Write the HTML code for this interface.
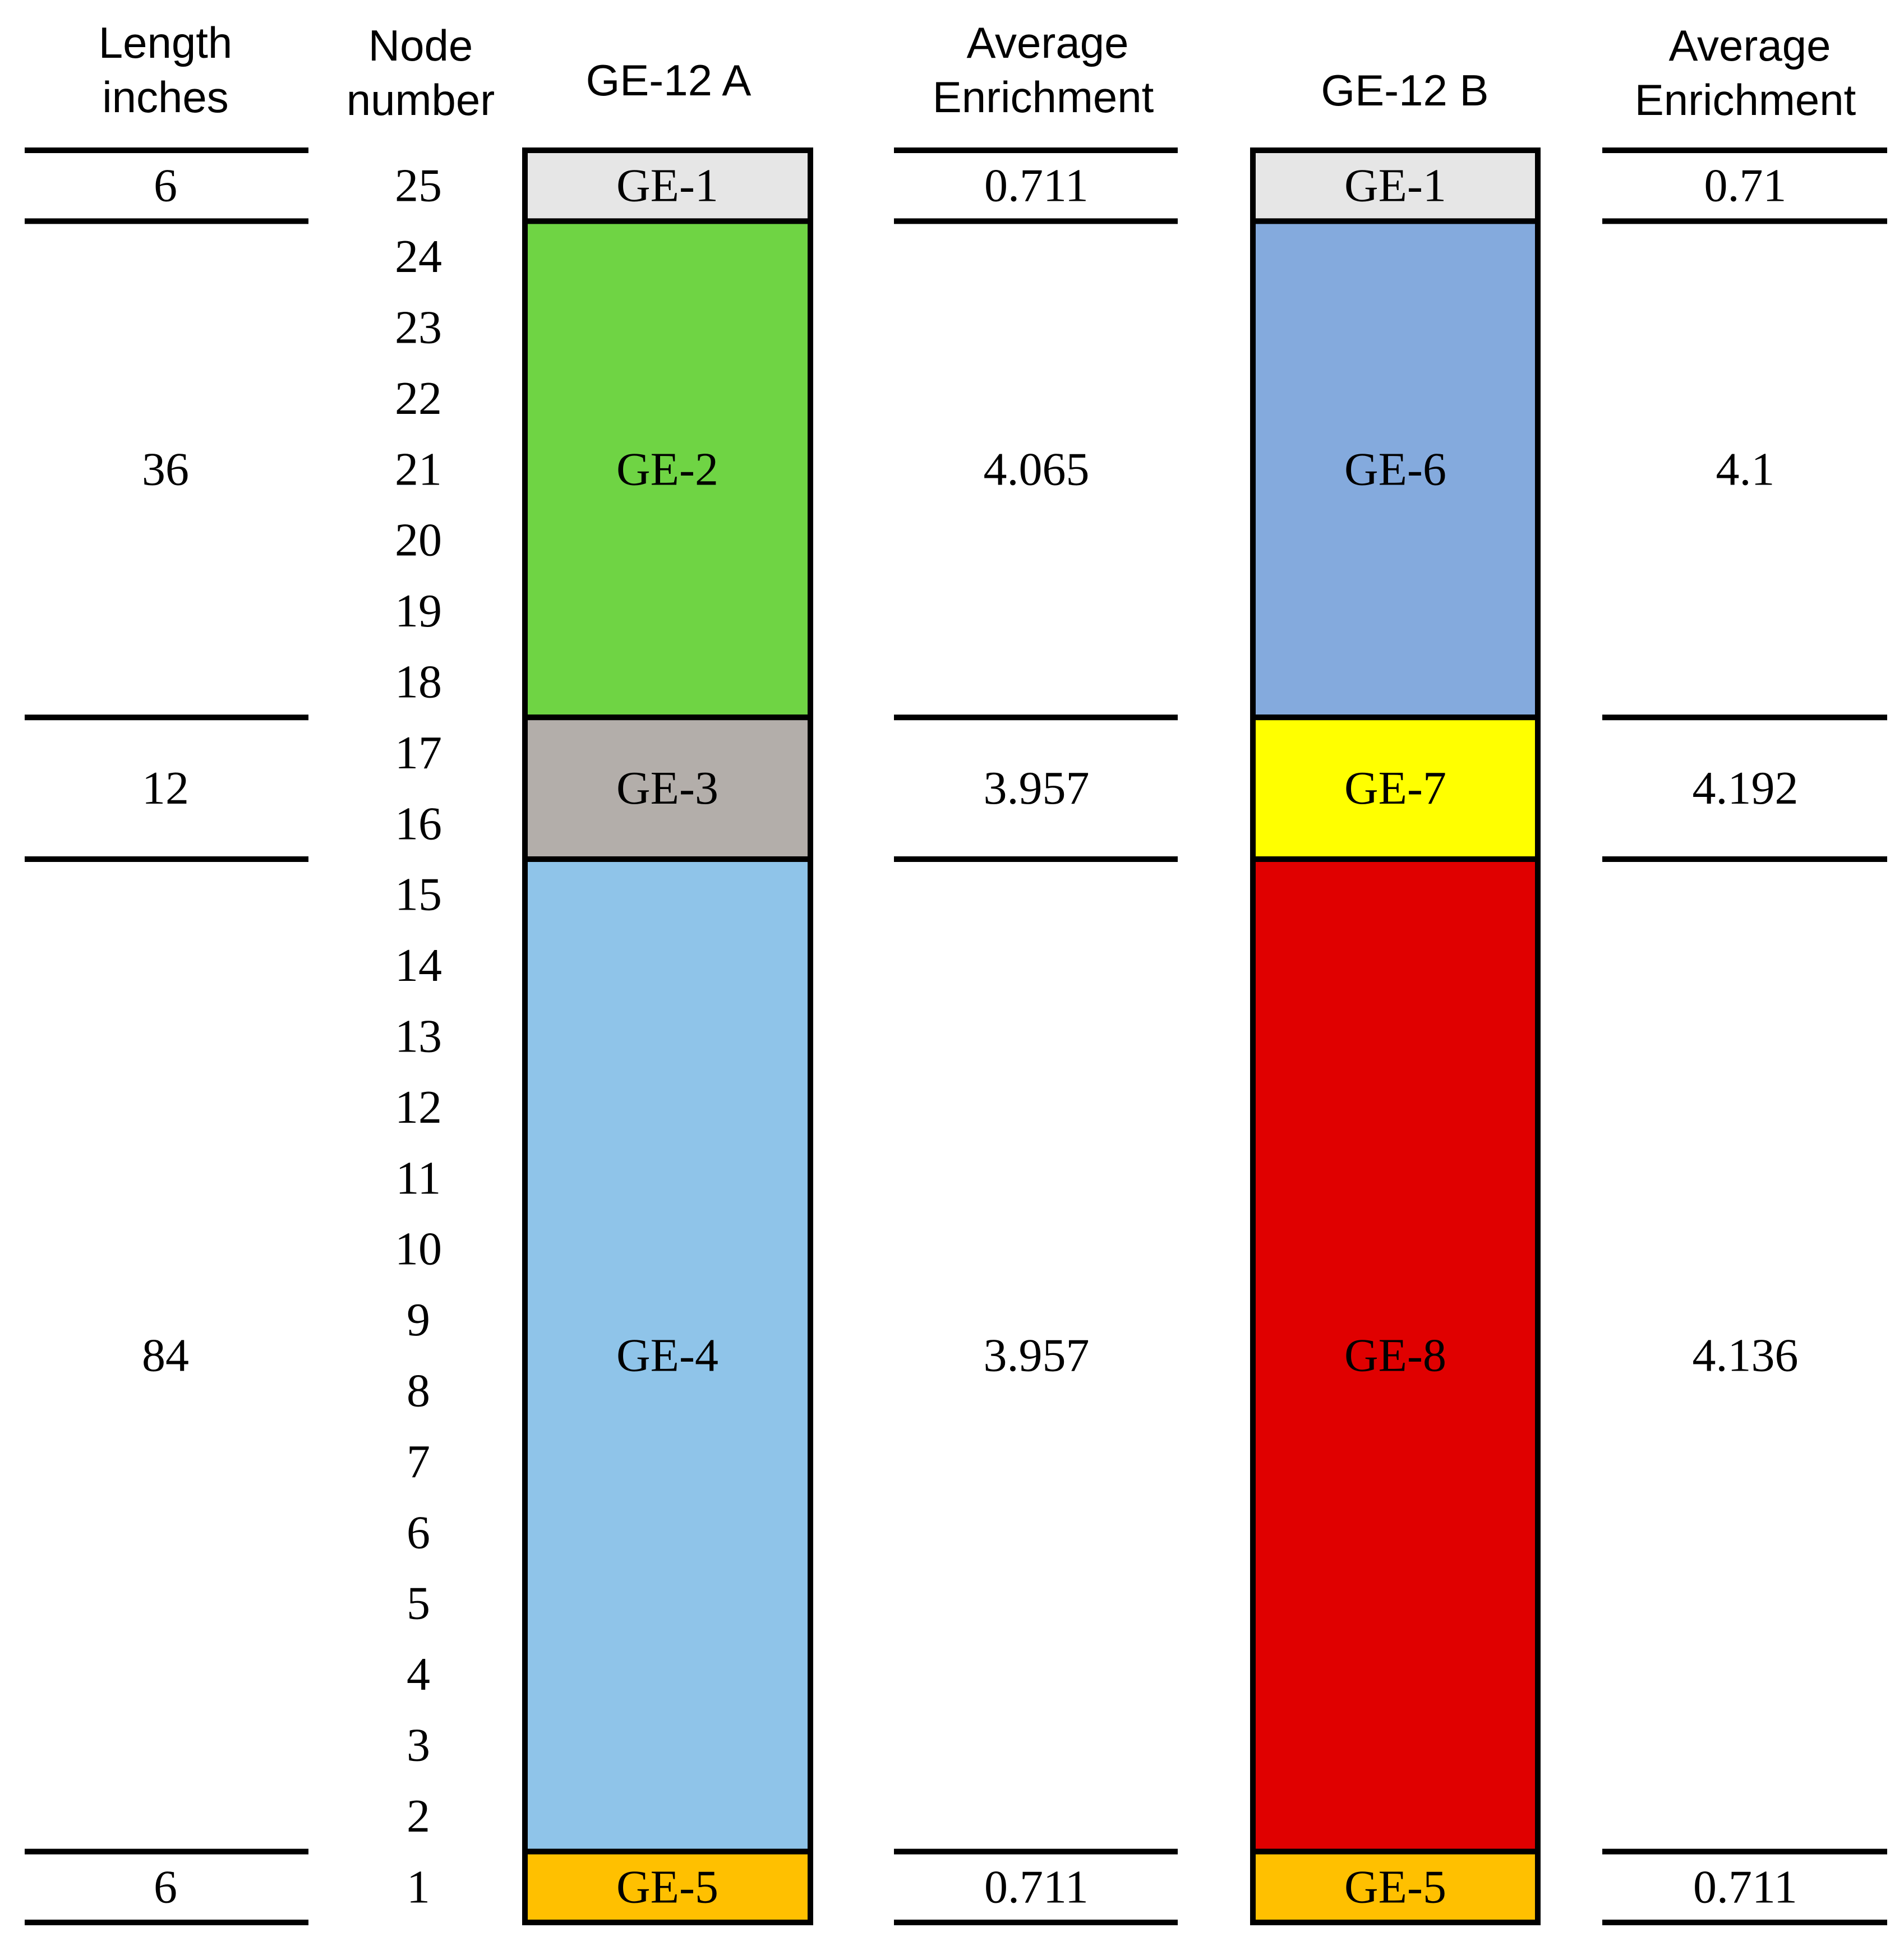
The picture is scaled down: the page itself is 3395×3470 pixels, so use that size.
<!DOCTYPE html>
<html><head><meta charset="utf-8"><style>
html,body{margin:0;padding:0;background:#fff;}
svg{display:block;}
.h{font-family:"Liberation Sans",sans-serif;font-size:78px;fill:#000;text-anchor:middle;}
.d{font-family:"Liberation Serif",serif;font-size:84px;fill:#000;text-anchor:middle;dominant-baseline:central;}
</style></head><body>
<svg id="c" width="3395" height="3470" viewBox="0 0 3395 3470">
<g>
<text class="h" x="295" y="103"><tspan x="295">Length</tspan><tspan x="295" dy="97">inches</tspan></text>
<text class="h" x="750" y="108"><tspan x="750">Node</tspan><tspan x="750" dy="97">number</tspan></text>
<text class="h" x="1192" y="170">GE-12 A</text>
<text class="h" x="1868" y="103"><tspan x="1868">Average</tspan><tspan x="1860" dy="97">Enrichment</tspan></text>
<text class="h" x="2505" y="188">GE-12 B</text>
<text class="h" x="3120" y="108"><tspan x="3120">Average</tspan><tspan x="3112" dy="97">Enrichment</tspan></text>
</g>
<g id="marks"></g>
</svg>
<script>
const lengths=[6,36,12,84,6];
const nodeCounts=[1,7,2,14,1];
const labelsA=["GE-1","GE-2","GE-3","GE-4","GE-5"];
const labelsB=["GE-1","GE-6","GE-7","GE-8","GE-5"];
const enrichA=["0.711","4.065","3.957","3.957","0.711"];
const enrichB=["0.71","4.1","4.192","4.136","0.711"];
const colorsA=["#e6e6e6","#6fd444","#b3aeaa","#8fc4e9","#ffc000"];
const colorsB=["#e6e6e6","#84aadd","#ffff00","#e00000","#ffc000"];

const NS="http://www.w3.org/2000/svg";
const g=document.getElementById('marks');
const top0=268, bottom0=3428;
const totalNodes=nodeCounts.reduce((a,b)=>a+b,0);
const yScale=n=>top0+(bottom0-top0)*n/totalNodes;
function mk(tag,attrs,parent){const e=document.createElementNS(NS,tag);for(const k in attrs)e.setAttribute(k,attrs[k]);(parent||g).appendChild(e);return e;}
const lineCols=[[44,550],[1594,2100],[2857,3365]];
const textX={len:295,nodes:746,barA:1190,enA:1848,barB:2488,enB:3112};
let acc=0;
const bounds=[yScale(0)];
for(let i=0;i<nodeCounts.length;i++){
  const y0=yScale(acc), y1=yScale(acc+nodeCounts[i]), ym=(y0+y1)/2;
  bounds.push(y1);
  const t1=mk('text',{class:'d',x:textX.len,y:ym});t1.textContent=lengths[i];
  
  
  const ra=mk('rect',{x:936,y:y0,width:509,height:y1-y0,fill:colorsA[i],stroke:'#000','stroke-width':10});
  
  
  const ta=mk('text',{class:'d',x:textX.barA,y:ym});ta.textContent=labelsA[i];
  
  
  const ea=mk('text',{class:'d',x:textX.enA,y:ym});ea.textContent=enrichA[i];
  
  
  const rb=mk('rect',{x:2234,y:y0,width:508,height:y1-y0,fill:colorsB[i],stroke:'#000','stroke-width':10});
  
  
  const tb=mk('text',{class:'d',x:textX.barB,y:ym});tb.textContent=labelsB[i];
  
  
  const eb=mk('text',{class:'d',x:textX.enB,y:ym});eb.textContent=enrichB[i];
  
  
  for(let k=0;k<nodeCounts[i];k++){
    const node=totalNodes-acc-k;
    const ny=yScale(acc+k+0.5);
    const tn=mk('text',{class:'d',x:textX.nodes,y:ny});tn.textContent=node;
    
    
  }
  acc+=nodeCounts[i];
}
bounds.forEach(y=>{
  lineCols.forEach(([x1,x2])=>{
    const l=mk('line',{x1:x1,x2:x2,y1:y,y2:y,stroke:'#000','stroke-width':10});
    
    
  });
});
</script>
</body></html>
